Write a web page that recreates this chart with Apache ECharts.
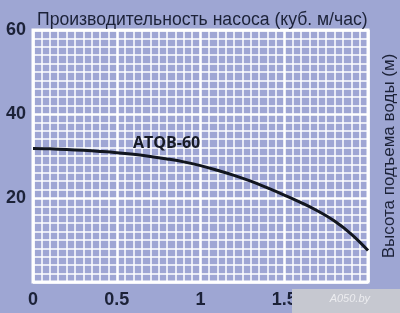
<!DOCTYPE html>
<html>
<head>
<meta charset="utf-8">
<script src="https://cdn.jsdelivr.net/npm/echarts@6/dist/echarts.min.js"></script>
<style>
html,body{margin:0;padding:0;background:#9ea6d3;}
#chart{width:400px;height:313px;}
</style>
</head>
<body>
<div id="chart"></div>
<script>
// Flow rate (m3/h)
const flowValues = [0, 0.1, 0.2, 0.3, 0.4, 0.5, 0.6, 0.7, 0.8, 0.9, 1.0, 1.1, 1.2, 1.3, 1.4, 1.5, 1.6, 1.7, 1.8, 1.9, 2.0];
// Head (m) for ATQB-60
const headValues = [31.8, 31.7, 31.55, 31.35, 31.1, 30.8, 30.4, 29.9, 29.3, 28.6, 27.7, 26.6, 25.4, 24.0, 22.4, 20.7, 18.9, 16.9, 14.5, 11.4, 7.5];
const xTickLabels = ['0', '0.5', '1', '1.5', '2'];
const yTickLabels = ['', '20', '40', '60'];
const seriesName = 'ATQB-60';
const labelAnchor = [0.597, 33.0];
const xTitle = 'Производительность насоса (куб. м/час)';
const yTitle = 'Высота подъема воды (м)';
const watermark = 'A050.by';

const chart = echarts.init(document.getElementById('chart'), null, {renderer: 'canvas'});
const dark = '#1c2238';
const option = {
  backgroundColor: '#9ea6d3',
  animation: false,
  grid: {
    left: 33, right: 32, top: 30, bottom: 31,
    containLabel: false,
    outerBoundsMode: 'none',
    show: true,
    backgroundColor: '#9fa6d4',
    borderColor: '#ffffff',
    borderWidth: 3
  },
  title: {
    text: xTitle,
    left: 32, top: 6,
    textStyle: {fontFamily: 'Liberation Sans', fontWeight: 'normal', fontSize: 17.6, color: dark}
  },
  xAxis: {
    type: 'value', min: 0, max: 2, interval: 0.5,
    axisLine: {show: false}, axisTick: {show: false},
    axisLabel: {
      margin: 9, fontFamily: 'Liberation Sans', fontWeight: 'bold', fontSize: 18, color: dark,
      formatter: function (v) { return xTickLabels[Math.round(v / 0.5)]; }
    },
    splitLine: {show: true, lineStyle: {color: '#ffffff', width: 2.6}},
    minorTick: {show: false, splitNumber: 10},
    minorSplitLine: {show: true, lineStyle: {color: '#ffffff', width: 1.5}}
  },
  yAxis: [{
    type: 'value', min: 0, max: 60, interval: 20,
    axisLine: {show: false}, axisTick: {show: false},
    axisLabel: {
      margin: 7, fontFamily: 'Liberation Sans', fontWeight: 'bold', fontSize: 18, color: dark,
      formatter: function (v) { return yTickLabels[Math.round(v / 20)]; }
    },
    splitLine: {show: true, lineStyle: {color: '#ffffff', width: 2.6}},
    minorTick: {show: false, splitNumber: 10},
    minorSplitLine: {show: true, lineStyle: {color: '#ffffff', width: 1.5}},
    name: yTitle,
    nameLocation: 'middle',
    nameRotate: 90,
    nameGap: -365,
    nameTextStyle: {fontFamily: 'Liberation Sans', fontSize: 17, color: dark}
  }],
  series: [{
    name: seriesName,
    type: 'line',
    smooth: 0.4,
    showSymbol: false,
    data: flowValues.map((x, i) => [x, headValues[i]]),
    lineStyle: {color: '#12161f', width: 3},
    markPoint: {
      symbol: 'circle', symbolSize: 0,
      data: [{coord: labelAnchor, value: seriesName}],
      label: {
        show: true, position: 'inside', align: 'left', verticalAlign: 'middle',
        formatter: seriesName,
        fontFamily: 'Open Sans', fontWeight: 'bold', fontSize: 16, color: '#161a26'
      }
    }
  }],
  graphic: [{
    type: 'rect', right: 0, bottom: 0, z: 100,
    shape: {width: 108, height: 24},
    style: {fill: '#c6c8d0'}
  }, {
    type: 'text', right: 30, bottom: 9, z: 101,
    style: {text: watermark, fill: '#f2f2f4', font: 'italic 11px Liberation Sans', opacity: 0.85}
  }]
};
chart.setOption(option);
</script>
</body>
</html>
